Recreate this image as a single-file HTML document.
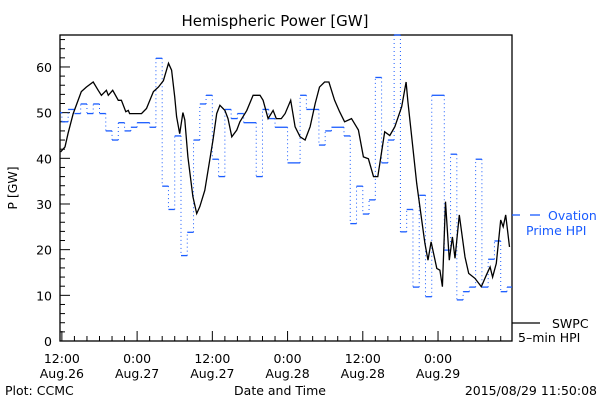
<!DOCTYPE html>
<html><head><meta charset="utf-8"><style>
body{margin:0;background:#fff}
svg text{font-family:"DejaVu Sans","Liberation Sans",sans-serif;font-size:12.5px}
</style></head><body>
<svg id="c" width="600" height="400" viewBox="0 0 600 400">
<text x="275" y="26" text-anchor="middle" style="font-size:15px">Hemispheric Power [GW]</text>
<text transform="translate(17,188) rotate(-90)" text-anchor="middle">P [GW]</text>
<text x="280" y="395" text-anchor="middle">Date and Time</text>
<text x="5" y="395">Plot: CCMC</text>
<text x="597" y="395" text-anchor="end">2015/08/29 11:50:08</text>
<g id="axes"></g>
<g id="series"></g>
<line x1="512" y1="215" x2="520" y2="215" stroke="#1a5cff" stroke-width="1.3"/>
<line x1="530" y1="215" x2="540" y2="215" stroke="#1a5cff" stroke-width="1.3"/>
<text x="548" y="220" fill="#1a5cff">Ovation</text>
<text x="526" y="235" fill="#1a5cff">Prime HPI</text>
<line x1="512" y1="323" x2="540" y2="323" stroke="#000" stroke-width="1.3"/>
<text x="552" y="328">SWPC</text>
<text x="518" y="342">5–min HPI</text>
</svg>
<script>
const yTicks=[0,10,20,30,40,50,60];
const xTickHours=[0,12,24,36,48,60];
const xTickTime=["12:00","0:00","12:00","0:00","12:00","0:00"];
const xTickDate=["Aug.26","Aug.27","Aug.27","Aug.28","Aug.28","Aug.29"];
const swpcHours=[-0.2,0.5,1.0,1.8,3.1,3.9,5,5.8,6.3,7.1,7.4,8.1,9,9.5,10.2,10.6,10.8,12.7,13.5,14.6,15.4,16.2,17,17.5,18,18.3,18.8,19.3,19.6,20.1,20.9,21.5,22,22.8,24.1,24.7,25.2,26,26.5,27.1,27.9,28.4,29.5,30.5,31.6,32.1,32.9,33.7,34.2,35,35.6,36.5,37.2,38,38.8,39.6,40.4,41.1,41.9,42.6,43.5,44.3,45.1,46.2,47.3,48.1,48.9,49.7,50.4,51.5,52.3,53.1,54.2,54.9,55.2,55.8,56.6,57.4,57.9,58.4,58.9,59.8,60.3,60.7,61.2,61.8,62.3,62.7,63.4,64.3,64.9,65.9,66.9,67.7,68.3,68.7,69.3,70,70.4,70.8,71.4];
const swpcValues=[41.4,42.5,45.5,49.8,54.6,55.6,56.7,54.9,53.8,54.9,53.8,54.9,52.7,52.7,50.2,50.5,49.8,49.8,50.9,54.6,55.6,57,60.8,59.3,53.5,49.1,45.4,50,48.4,40.3,31.6,27.9,29.4,33,44,49.8,51.6,50.5,48.7,44.7,46.2,48,50.5,53.8,53.8,52.7,48.7,50.5,48.7,48.7,49.8,52.7,46.9,44.7,44,46.9,52,55.6,56.7,56.7,52.7,50.2,48,48.7,46.2,40.3,39.9,36,36,45.8,45,46.9,51.3,56.7,52.4,44.7,34.5,26.5,21.4,17.7,21.7,15.9,15.5,11.9,30.5,17.7,22.8,18.1,27.6,18.4,14.8,13.7,11.9,14.4,16.2,14,17,26.5,25,27.6,20.6];
const ovStart=[-0.3,0,1,2,3,4,5,6,7,8,9,10,11,12,14,15,16,17,18,19,20,21,22,23,24,25,26,27,28,29,31,32,33,34,36,38,39,41,42,43,45,46,47,48,49,50,51,52,53,54,55,56,57,58,59,61,62,63,64,65,66,67,68,69,70,71];
const ovValues=[50,48,50.7,49.8,51.9,49.8,51.9,49.8,46,44,47.8,46,46.8,47.8,46.8,61.9,33.9,28.8,44.9,18.7,23.8,44,51.9,53.8,39.8,36,50.7,48.7,49.8,47.8,36,50.7,48.7,46.8,39,53.8,50.7,42.9,46,46.8,44.9,25.7,33.9,27.8,30.9,57.7,39,44,67,23.9,28.8,11.8,31.9,9.7,53.8,19.9,40.9,9,10.8,11.8,39.8,11.8,17.9,21.9,10.8,11.8];
const L=60,R=512,T=35,B=341,H0=-0.3,H1=71.8,YMAX=67;
const xs=h=>L+(h-H0)/(H1-H0)*(R-L);
const ys=v=>B-Math.max(0,Math.min(YMAX,v))/YMAX*(B-T);
const NS="http://www.w3.org/2000/svg";
function mk(tag,parent,attrs){const e=document.createElementNS(NS,tag);for(const k in attrs)e.setAttribute(k,attrs[k]);parent.appendChild(e);return e;}
const ax=document.getElementById('axes'),se=document.getElementById('series');
const frame=mk('rect',ax,{x:L,y:T,width:R-L,height:B-T,fill:'none',stroke:'#000','stroke-width':1.3});


for(let v=0;v<=YMAX;v+=2){const major=v%10===0;const t=mk('line',ax,{x1:L,x2:L+(major?10:5),y1:ys(v),y2:ys(v),stroke:'#000'});

}
yTicks.forEach(v=>{const t=mk('text',ax,{x:L-8,y:ys(v)+5,'text-anchor':'end'});t.textContent=v;

});
for(let h=0;h<=H1;h+=2){if(h<H0)continue;const major=h%12===0;const t=mk('line',ax,{x1:xs(h),x2:xs(h),y1:B,y2:B-(major?10:5),stroke:'#000'});

}
xTickHours.forEach((h,i)=>{const a=mk('text',ax,{x:xs(h),y:B+22,'text-anchor':'middle'});a.textContent=xTickTime[i];


const b=mk('text',ax,{x:xs(h),y:B+37,'text-anchor':'middle'});b.textContent=xTickDate[i];

});
// ovation steps
for(let i=0;i<ovStart.length;i++){const x1=xs(ovStart[i]),x2=xs(i+1<ovStart.length?ovStart[i+1]:H1),y=ys(ovValues[i]);
const hl=mk('line',se,{x1:x1,x2:x2,y1:y,y2:y,stroke:'#1a5cff','stroke-width':1.3});


if(i+1<ovStart.length){const vl=mk('line',se,{x1:x2,x2:x2,y1:y,y2:ys(ovValues[i+1]),stroke:'#1a5cff','stroke-width':1,'stroke-dasharray':'1 3'});

}}
// swpc line
const pts=swpcHours.map((h,i)=>xs(h).toFixed(1)+','+ys(swpcValues[i]).toFixed(1)).join(' ');
const pl=mk('polyline',se,{points:pts,fill:'none',stroke:'#000','stroke-width':1.3});


</script>
</body></html>
